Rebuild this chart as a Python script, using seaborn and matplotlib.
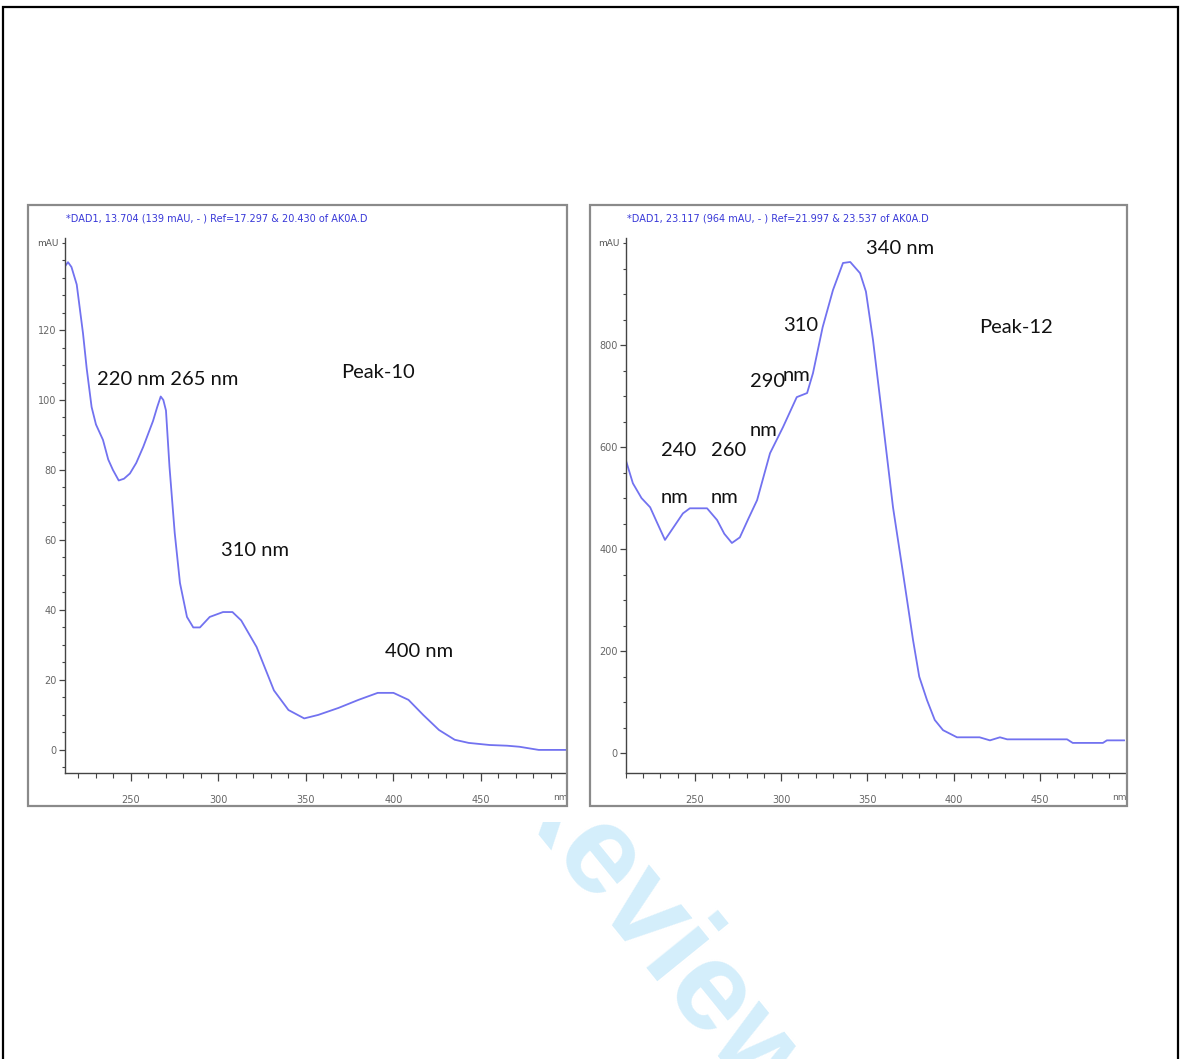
import numpy as np
import matplotlib
matplotlib.use("Agg")
import matplotlib.pyplot as plt
from matplotlib.patches import Rectangle
from matplotlib.ticker import MultipleLocator
import seaborn as sns

# Peak-10 spectrum (wavelength nm, absorbance mAU)
peak10_nm = [212, 214, 216, 219, 222.6, 224.7, 227.5, 230, 234, 237, 239.7, 243, 246,
             249.4, 253, 257, 262.6, 265, 267, 268.5, 270, 272, 275, 278, 282, 285.6,
             289.4, 295, 302.6, 308, 313, 321.8, 331.7, 340, 349, 357, 368.6, 380, 391,
             400, 408.6, 417, 426, 435, 443, 455, 465, 472, 483, 499]
peak10_mau = [138, 139.4, 138, 133, 119, 109, 98, 93, 88.6, 83, 80, 77, 77.5,
              79, 82, 86.6, 94, 98, 101, 100, 97, 81, 62, 47.7, 38, 35,
              35, 38, 39.4, 39.4, 37, 29.4, 17, 11.4, 9, 10, 12, 14.3, 16.3,
              16.3, 14.3, 10, 5.7, 2.9, 2, 1.4, 1.2, 0.9, 0, 0]

# Peak-12 spectrum
peak12_nm = [209.4, 214, 219, 224, 228, 232.6, 238, 243, 247, 257, 262.8, 267, 271.4,
             276, 281, 286, 293.5, 301, 309, 315, 318.4, 324, 330, 335.8, 340, 345.7,
             349.1, 353.2, 359, 364.8, 370.6, 376.4, 380, 384.5, 389, 393.8, 401.9,
             415, 421, 426.8, 431, 465.7, 469, 486.5, 488.8, 499]
peak12_mau = [580, 529, 500, 482, 452, 418, 445, 470, 480, 480, 457, 430, 412,
              423, 460, 496, 588, 639, 698, 706, 745, 835, 908, 961, 963, 941,
              905, 810, 647, 482, 353, 222, 150, 104, 65, 45, 31,
              31, 25, 31, 27, 27, 20, 20, 25, 25]

header10 = "*DAD1, 13.704 (139 mAU, - ) Ref=17.297 & 20.430 of AK0A.D"
header12 = "*DAD1, 23.117 (964 mAU, - ) Ref=21.997 & 23.537 of AK0A.D"

# annotations: (text, nm, mAU)
notes10 = [("220 nm 265 nm", 230.6, 106), ("Peak-10", 370, 108),
           ("310 nm", 301.4, 57), ("400 nm", 395, 28)]
notes12 = [("340 nm", 349, 990), ("Peak-12", 414.6, 835),
           ("310", 301, 839), ("nm", 301, 741),
           ("290", 281.9, 729), ("nm", 281.9, 633),
           ("240", 230.3, 594), ("nm", 230.3, 502),
           ("260", 259.3, 594), ("nm", 259.3, 502)]

sns.set_style("white")
plt.rcParams['font.family'] = ['Lato', 'DejaVu Sans']

W, H = 1180, 1059
fig = plt.figure(figsize=(W / 100, H / 100), dpi=100)


def fx(px):
    return px / W


def fy(py):
    return 1 - py / H


# outer frame
fig.patches.append(Rectangle((fx(3), fy(1070)), fx(1178) - fx(3), fy(7) - fy(1070),
                             transform=fig.transFigure, fill=False, ec="black", lw=1.6))
# panel boxes
for x0, x1 in [(28, 567), (590, 1127)]:
    fig.patches.append(Rectangle((fx(x0), fy(806)), fx(x1) - fx(x0), fy(205) - fy(806),
                                 transform=fig.transFigure, fill=False, ec="#8a8a8a", lw=1.6))

line_color = "#7272f0"
small_font = ['Liberation Sans Narrow', 'DejaVu Sans']

panels = [
    dict(rect=(65, 501), nm=peak10_nm, mau=peak10_mau, xlim=(212.3, 498.6), ylim=(-6.6, 146.3),
         ymaj=20, ymin=5, ytop=120, header=header10, notes=notes10),
    dict(rect=(626, 499), nm=peak12_nm, mau=peak12_mau, xlim=(210, 499.3), ylim=(-39, 1010),
         ymaj=200, ymin=50, ytop=800, header=header12, notes=notes12),
]

for p in panels:
    left, width = p["rect"]
    ax = fig.add_axes([fx(left), fy(773), fx(width), fy(238) - fy(773)])
    ax.set_facecolor("none")
    sns.lineplot(x=p["nm"], y=p["mau"], ax=ax, color=line_color, linewidth=1.3)
    ax.set_xlim(*p["xlim"])
    ax.set_ylim(*p["ylim"])
    sns.despine(ax=ax)
    for s in ["left", "bottom"]:
        ax.spines[s].set_color("#444444")
        ax.spines[s].set_linewidth(1.0)
    ax.set_xticks([250, 300, 350, 400, 450])
    ax.xaxis.set_minor_locator(MultipleLocator(10))
    ax.set_yticks(np.arange(0, p["ytop"] + 1, p["ymaj"]))
    ax.yaxis.set_minor_locator(MultipleLocator(p["ymin"]))
    ax.tick_params(which="both", bottom=True, left=True, top=False, right=False)
    ax.tick_params(axis="x", which="major", direction="out", length=6, width=0.9,
                   color="#444444", labelcolor="#666666", labelsize=7, pad=10)
    ax.tick_params(axis="x", which="minor", direction="out", length=3.5, width=0.8,
                   color="#444444")
    ax.tick_params(axis="y", which="major", direction="out", length=4, width=0.9,
                   color="#444444", labelcolor="#666666", labelsize=7, pad=2)
    ax.tick_params(axis="y", which="minor", direction="out", length=2.5, width=0.8,
                   color="#444444")
    for lab in ax.get_xticklabels() + ax.get_yticklabels():
        lab.set_family(small_font)
    ax.set_xlabel("")
    ax.set_ylabel("")

    ax.text(0.988, -0.045, "nm", transform=ax.transAxes, ha="center", va="center",
            fontsize=6.5, color="#666666", family=small_font)
    ax.text(-0.034, 0.99, "mAU", transform=ax.transAxes, ha="center", va="center",
            fontsize=6.5, color="#555555", family=small_font)
    ax.text(0.002, 1.037, p["header"], transform=ax.transAxes, ha="left", va="center",
            fontsize=7, color="#3838d8", family=small_font)

    for txt, x, y in p["notes"]:
        ax.text(x, y, txt, ha="left", va="center", fontsize=14.5, color="#111111")

# watermark, partly hidden behind the pasted image
clip = Rectangle((0, 0), 1, fy(822), transform=fig.transFigure)
wm = fig.text(fx(491), fy(787), "Review", rotation=-51, rotation_mode="anchor",
              ha="left", va="baseline", fontsize=91, fontweight="bold",
              color="#d4eefb", family=["Liberation Sans", "DejaVu Sans"], zorder=0)
wm.set_clip_path(clip)

fig.savefig("out.png", dpi=100)
